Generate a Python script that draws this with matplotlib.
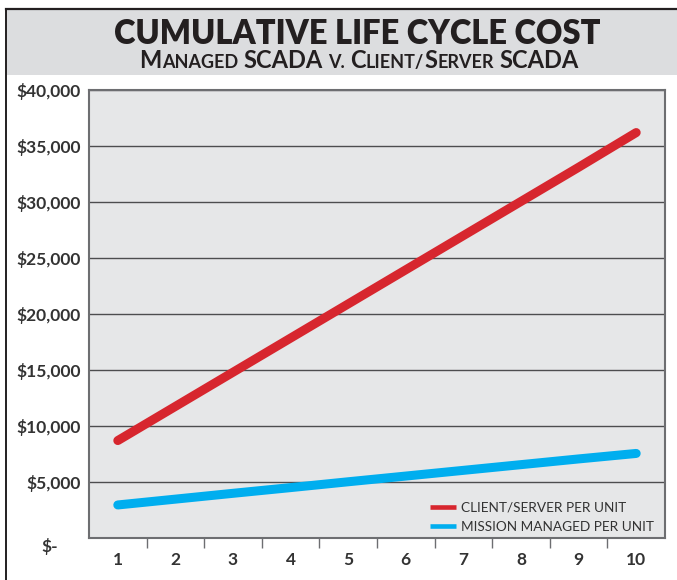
import matplotlib
matplotlib.use("Agg")
import matplotlib.pyplot as plt
from matplotlib.patches import Rectangle
from matplotlib.lines import Line2D

# data
years = [1, 2, 3, 4, 5, 6, 7, 8, 9, 10]
client_server = [8700, 11750, 14800, 17850, 20900, 23950, 27000, 30050, 33100, 36200]
mission_managed = [2950, 3470, 3990, 4500, 5020, 5530, 6040, 6550, 7060, 7550]
y_ticks = [0, 5000, 10000, 15000, 20000, 25000, 30000, 35000, 40000]
y_labels = ['', '$5,000', '$10,000', '$15,000', '$20,000', '$25,000',
            '$30,000', '$35,000', '$40,000']

RED = '#d7262e'
BLUE = '#00aeef'
TXT = '#333333'
FONT = 'Lato'

W, H = 677, 580
fig = plt.figure(figsize=(W / 100, H / 100), dpi=100)
fig.patch.set_facecolor('white')

# grey title band and the frame lines
fig.patches.append(Rectangle((6 / W, 1 - 75 / H), 1, 65 / H, transform=fig.transFigure,
                             facecolor='#dcdddf', edgecolor='none', zorder=0))
fig.lines.append(Line2D([6 / W, 1], [1 - 9 / H, 1 - 9 / H], transform=fig.transFigure,
                        color='#231f20', lw=1.6))
fig.lines.append(Line2D([6 / W, 6 / W], [0, 1 - 9 / H], transform=fig.transFigure,
                        color='#231f20', lw=1.4))

ax = fig.add_axes([89 / W, 1 - 538 / H, 576 / W, 448 / H])
ax.set_facecolor('#e6e7e8')

ax.plot(years, client_server, color=RED, lw=6.5, solid_capstyle='round',
        label='CLIENT/SERVER PER UNIT', zorder=3)
ax.plot(years, mission_managed, color=BLUE, lw=6.5, solid_capstyle='round',
        label='MISSION MANAGED PER UNIT', zorder=3)

ax.set_xlim(0.5, 10.5)
ax.set_ylim(0, 40000)
ax.set_yticks(y_ticks)
ax.set_yticklabels(y_labels)
ax.set_xticks(years)
ax.set_xticklabels([str(y) for y in years])
ax.set_xticks([y + 0.5 for y in years[:-1]], minor=True)
ax.tick_params(axis='x', which='major', length=0, pad=10)
ax.tick_params(axis='x', which='minor', length=7, width=1, color='#6d6e71', direction='out')
ax.tick_params(axis='y', length=0, pad=6)
for lab in ax.get_xticklabels() + ax.get_yticklabels():
    lab.set_fontfamily(FONT)
    lab.set_fontweight('bold')
    lab.set_fontsize(12.5)
    lab.set_color(TXT)
ax.text(-0.068, 0, '$-', transform=ax.get_yaxis_transform(), ha='center', va='top',
        fontfamily=FONT, fontweight='bold', fontsize=12.5, color=TXT)

ax.yaxis.grid(True, color='#4d4d4f', lw=1)
ax.set_axisbelow(True)
for sp in ax.spines.values():
    sp.set_color('#6d6e71')
    sp.set_linewidth(1.5)

leg = ax.legend(loc='lower right', bbox_to_anchor=(0.981, 0.012), frameon=False,
                handlelength=1.9, handletextpad=0.37, labelspacing=0.5,
                borderaxespad=0, borderpad=0,
                prop={'family': FONT, 'size': 9.8})
for t in leg.get_texts():
    t.set_color(TXT)
for h in leg.get_lines():
    h.set_linewidth(3.3)
    h.set_solid_capstyle('butt')

# title
fig.text(357 / W, 1 - 44 / H, 'CUMULATIVE LIFE CYCLE COST', ha='center', va='baseline',
         fontfamily=FONT, fontweight='heavy', fontsize=23.5, color='#231f20')

# subtitle in small caps, built from runs
runs = [('M', 1, 0), ('ANAGED', 0, 1), ('SCADA', 1, 1), ('V.', 0, 1), ('C', 1, 0),
        ('LIENT/', 0, 0), ('S', 1, 0), ('ERVER', 0, 1), ('SCADA', 1, 0)]
fig.canvas.draw()
rend = fig.canvas.get_renderer()
space = 5.5
pieces = []
x = 0
for s, big, gap in runs:
    t = fig.text(0, 1 - 68 / H, s, ha='left', va='baseline', fontfamily=FONT,
                 fontweight='bold', fontsize=17 if big else 13, color='#231f20')
    w = t.get_window_extent(rend).width
    pieces.append((t, x))
    x += w + gap * space
start = 359 - x / 2
for t, off in pieces:
    t.set_x((start + off) / W)

fig.savefig('out.png', dpi=100)
